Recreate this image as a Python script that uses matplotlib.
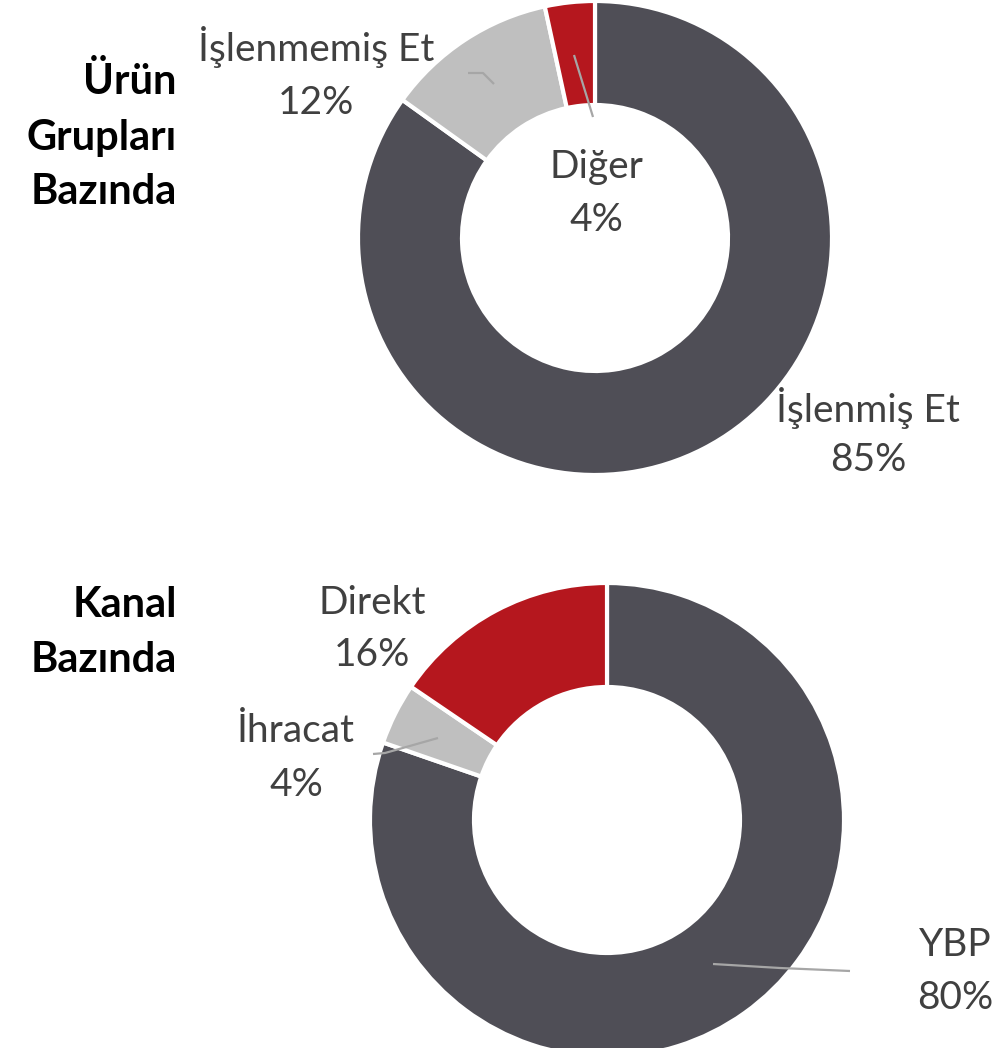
import matplotlib
matplotlib.use("Agg")
import matplotlib.pyplot as plt

W, H = 996, 1048

# Data
urun_labels = ["İşlenmiş Et", "İşlenmemiş Et", "Diğer"]
urun_values = [84.9, 11.7, 3.4]
urun_text = ["85%", "12%", "4%"]

kanal_labels = ["YBP", "İhracat", "Direkt"]
kanal_values = [80.3, 4.2, 15.5]
kanal_text = ["80%", "4%", "16%"]

colors = ["#4F4E56", "#BFBFBF", "#B5171E"]
TXT = "#404040"
LINE = "#A6A6A6"

fig = plt.figure(figsize=(W / 100, H / 100), dpi=100)
ax = fig.add_axes([0, 0, 1, 1])

def Y(y):
    return H - y

wp = dict(width=104, edgecolor="white", linewidth=3)
ax.pie(urun_values, colors=colors, startangle=90, counterclock=False,
       center=(595, Y(238)), radius=237, wedgeprops=wp, frame=True)
ax.pie(kanal_values, colors=colors, startangle=90, counterclock=False,
       center=(607, Y(820)), radius=237, wedgeprops=wp, frame=True)

ax.set_xlim(0, W)
ax.set_ylim(0, H)
ax.set_aspect("equal")
ax.axis("off")

font = "Lato"
fs = 28

def label(x, y1, y2, name, pct):
    ax.text(x, Y(y1), name, ha="center", va="center", fontsize=fs, color=TXT, family=font)
    ax.text(x, Y(y2), pct, ha="center", va="center", fontsize=fs, color=TXT, family=font)

label(316, 47, 103, urun_labels[1], urun_text[1])
label(596, 167, 220, urun_labels[2], urun_text[2])
label(868, 408, 460, urun_labels[0], urun_text[0])
label(372, 603, 655, kanal_labels[2], kanal_text[2])
label(296, 731, 785, kanal_labels[1], kanal_text[1])
label(955, 945, 998, kanal_labels[0], kanal_text[0])

# leader lines
def leader(pts):
    xs = [p[0] for p in pts]
    ys = [Y(p[1]) for p in pts]
    ax.plot(xs, ys, color=LINE, lw=1.6, solid_capstyle="butt")

leader([(468, 73), (483, 73), (494, 84)])
leader([(574, 55), (593, 117)])
leader([(373, 754), (385, 753), (438, 738)])
leader([(713, 964), (780, 968), (850, 971)])

# titles
bf = 30
for txt, y in [("Ürün", 82), ("Grupları", 138), ("Bazında", 192)]:
    ax.text(177, Y(y), txt, ha="right", va="center", fontsize=bf, fontweight="bold",
            color="black", family=font)
for txt, y in [("Kanal", 605), ("Bazında", 660)]:
    ax.text(177, Y(y), txt, ha="right", va="center", fontsize=bf, fontweight="bold",
            color="black", family=font)

fig.savefig("out.png", dpi=100)
